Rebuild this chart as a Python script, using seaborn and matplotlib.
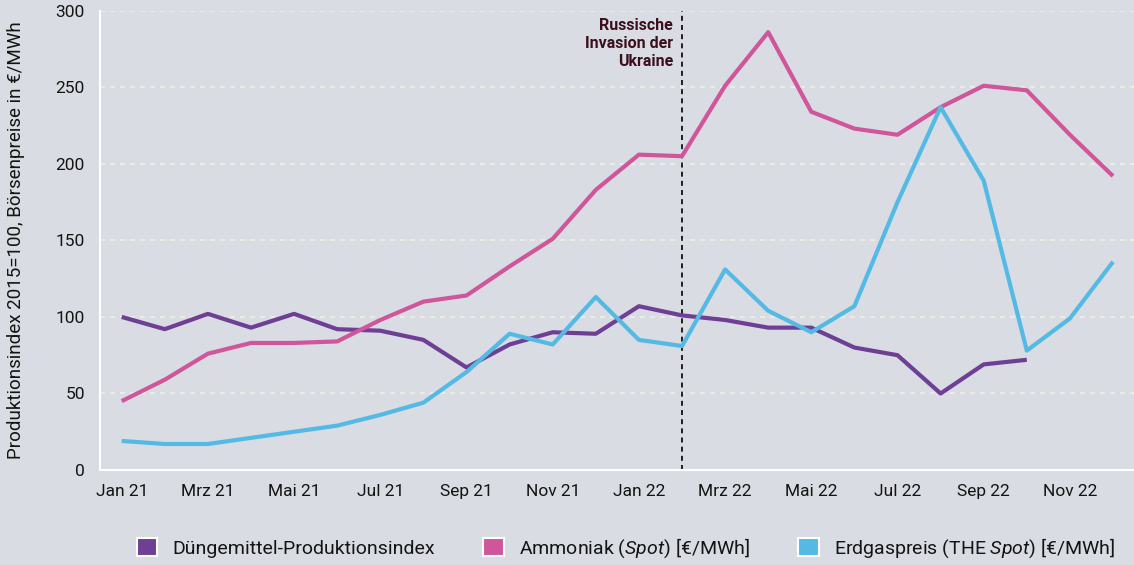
import matplotlib
matplotlib.use("Agg")
import matplotlib.pyplot as plt
from matplotlib.patches import Patch
import numpy as np
import pandas as pd
import seaborn as sns

# months Jan 21 .. Dez 22
months = ['Jan 21', 'Feb 21', 'Mrz 21', 'Apr 21', 'Mai 21', 'Jun 21',
          'Jul 21', 'Aug 21', 'Sep 21', 'Okt 21', 'Nov 21', 'Dez 21',
          'Jan 22', 'Feb 22', 'Mrz 22', 'Apr 22', 'Mai 22', 'Jun 22',
          'Jul 22', 'Aug 22', 'Sep 22', 'Okt 22', 'Nov 22', 'Dez 22']

duenger = [100, 92, 102, 93, 102, 92, 91, 85, 67, 82, 90, 89,
           107, 101, 98, 93, 93, 80, 75, 50, 69, 72, np.nan, np.nan]
ammoniak = [45, 59, 76, 83, 83, 84, 98, 110, 114, 133, 151, 183,
            206, 205, 251, 286, 234, 223, 219, 237, 251, 248, 219, 192]
erdgas = [19, 17, 17, 21, 25, 29, 36, 44, 64, 89, 82, 113,
          85, 81, 131, 104, 90, 107, 175, 237, 189, 78, 99, 136]

series_names = ['Düngemittel-Produktionsindex',
                'Ammoniak ($\\mathit{Spot}$) [€/MWh]',
                'Erdgaspreis (THE $\\mathit{Spot}$) [€/MWh]']
colors = ['#6e3f94', '#d0569c', '#54b9e3']

invasion_month = 13  # Feb 22
invasion_label = 'Russische\nInvasion der\nUkraine'

bg = '#d9dce3'

sns.set_theme(style='white')
plt.rcParams['font.family'] = ['Roboto', 'DejaVu Sans']
plt.rcParams['mathtext.fontset'] = 'custom'
plt.rcParams['mathtext.rm'] = 'Roboto'
plt.rcParams['mathtext.it'] = 'Roboto:italic'

idx = np.arange(len(months))
df = pd.concat([
    pd.DataFrame({'m': idx, 'value': vals, 'series': name})
    for name, vals in zip(series_names, [duenger, ammoniak, erdgas])
])
df = df.dropna()

fig = plt.figure(figsize=(11.34, 5.65), dpi=100, facecolor=bg)
ax = fig.add_axes([0.0882, 0.1681, 0.9118, 0.8129])
ax.set_facecolor(bg)

for y in [50, 100, 150, 200, 250, 300]:
    ax.axhline(y, color='#ecece6', lw=1.5, ls=(0, (2.4, 2.4)), zorder=0)

sns.lineplot(data=df, x='m', y='value', hue='series', hue_order=series_names,
             palette=colors, linewidth=3, legend=False, ax=ax,
             solid_joinstyle='round', solid_capstyle='butt')

ax.axvline(invasion_month, color='black', lw=1.2, ls=(0, (3, 2.5)), zorder=1)
ax.text(invasion_month - 0.21, 295.5, invasion_label, ha='right', va='top',
        fontsize=11.5, fontweight='bold', color='#3b0f1c', linespacing=1.25)

ax.set_xlim(-0.503, 23.487)
ax.set_ylim(0, 300)
ax.set_xticks(idx)
ax.set_xticklabels([m if i % 2 == 0 else '' for i, m in enumerate(months)])
ax.set_yticks([0, 50, 100, 150, 200, 250, 300])
ax.tick_params(axis='both', colors='white', length=7, width=1.5,
               labelcolor='#141414', labelsize=12.5, direction='out')
ax.tick_params(axis='x', pad=3)
ax.tick_params(axis='y', pad=4)
for s in ['top', 'right']:
    ax.spines[s].set_visible(False)
for s in ['left', 'bottom']:
    ax.spines[s].set_color('white')
    ax.spines[s].set_linewidth(1.5)

ax.set_xlabel('')
ax.set_ylabel('Produktionsindex 2015=100, Börsenpreise in €/MWh',
              fontsize=13.5, color='#141414')
ax.yaxis.set_label_coords(-0.073, 0.5)

handles = [Patch(facecolor=c, edgecolor='white', linewidth=1.5) for c in colors]
fig.legend(handles, series_names, loc='center', bbox_to_anchor=(0.552, 0.030),
           ncol=3, frameon=False, fontsize=14, handlelength=1.05,
           handleheight=1.05, handletextpad=0.77, columnspacing=2.5,
           labelcolor='#141414')

fig.savefig('out.png', dpi=100, facecolor=bg)
